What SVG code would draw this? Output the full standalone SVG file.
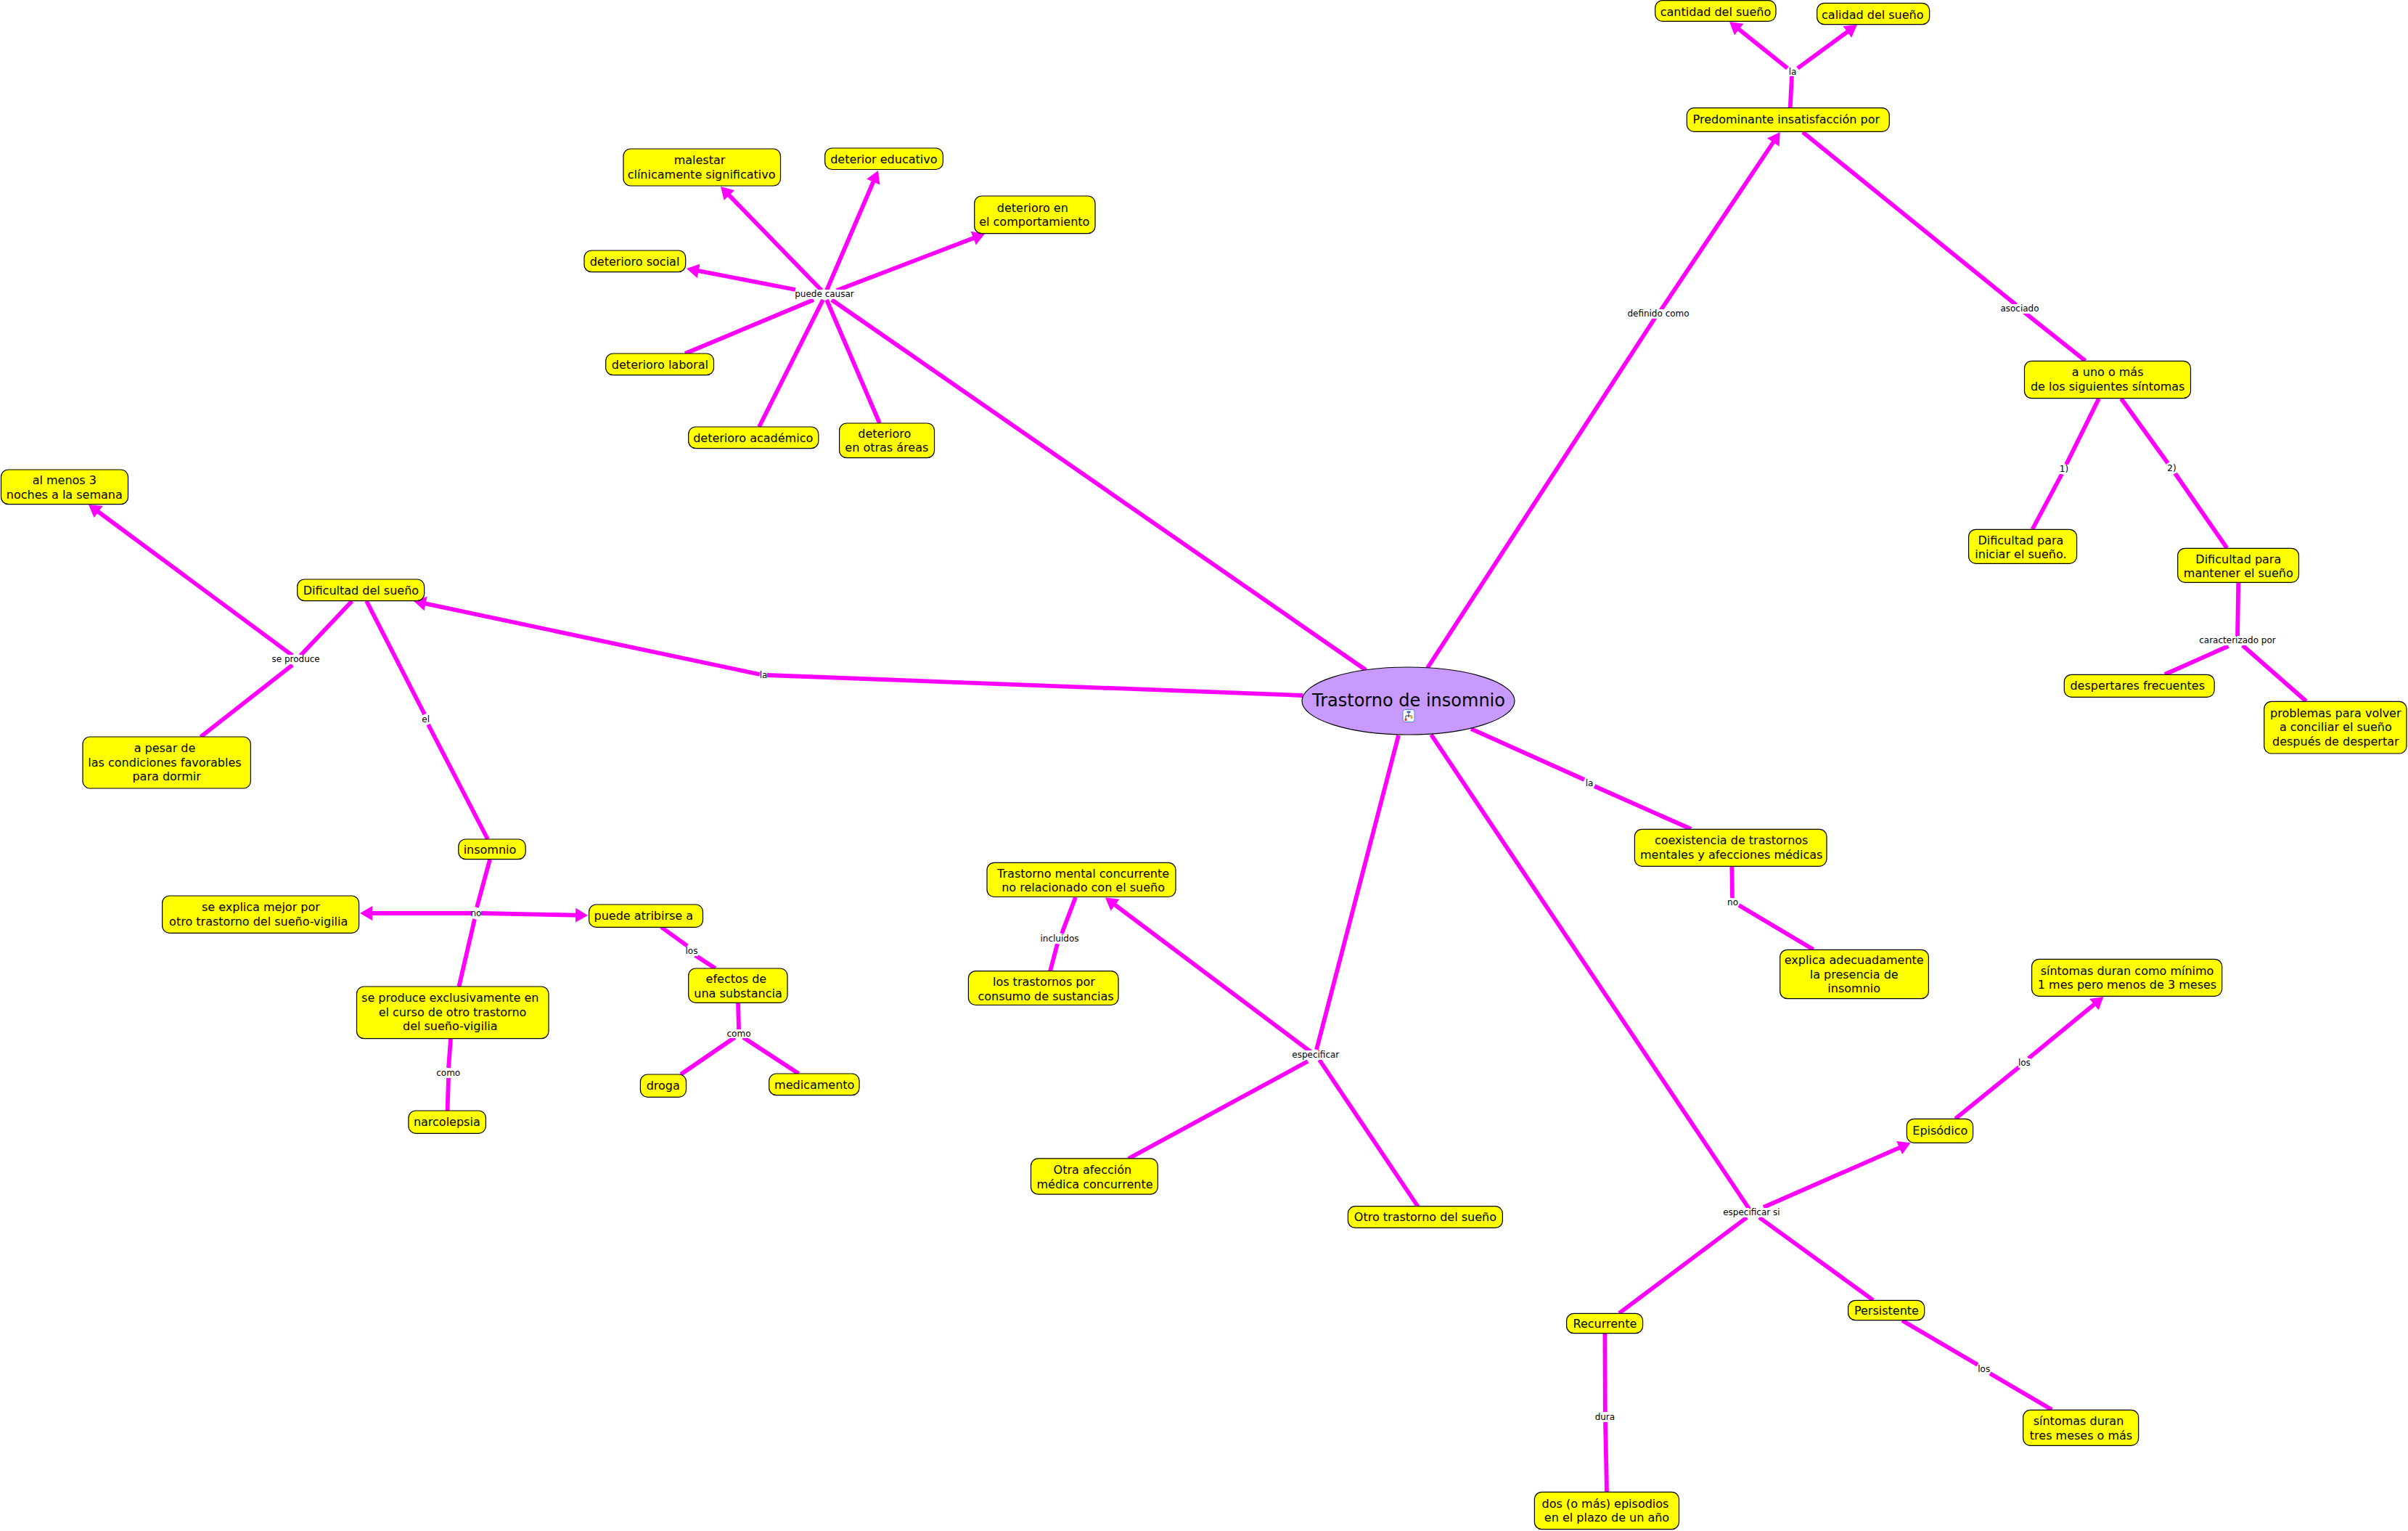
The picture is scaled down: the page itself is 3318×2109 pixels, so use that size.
<svg xmlns="http://www.w3.org/2000/svg" width="3318" height="2109" viewBox="0 0 3318 2109">
<style>
text{font-family:"DejaVu Sans","Liberation Sans",sans-serif;fill:#000}
.n rect{fill:#ff0;stroke:#000;stroke-width:1.2}
.n text{font-size:16px;text-anchor:middle}
.l rect{fill:#fff}
.l text{font-size:12px;text-anchor:middle}
#connectors line,#connectors polyline{stroke:#f0f;stroke-width:5.8;fill:none}
.a{marker-end:url(#arrow)}
</style>
<defs>
<marker id="arrow" markerUnits="userSpaceOnUse" markerWidth="18" markerHeight="22" refX="8" refY="11" orient="auto"><path d="M0 1L17 11L0 21z" fill="#f0f"/></marker>
</defs>
<rect width="3318" height="2109" fill="#fff"/>
<g id="connectors">
<line x1="1882" y1="923" x2="1146" y2="413"/>
<line class="a" x1="1132" y1="400" x2="999.3" y2="263.5"/>
<line class="a" x1="1139" y1="400" x2="1206.4" y2="243.3"/>
<line class="a" x1="1153" y1="400" x2="1348.6" y2="325.2"/>
<line class="a" x1="1096" y1="399" x2="954.8" y2="371.7"/>
<line x1="944" y1="487" x2="1121" y2="413"/>
<line x1="1046" y1="588" x2="1134" y2="413"/>
<line x1="1212" y1="583" x2="1139" y2="413"/>
<line x1="1795" y1="958" x2="1057" y2="930"/>
<line class="a" x1="1047" y1="929" x2="578.8" y2="829.9"/>
<line class="a" x1="403" y1="903" x2="129.2" y2="700.4"/>
<line x1="485" y1="828" x2="414" y2="903"/>
<line x1="276.5" y1="1015" x2="403" y2="916"/>
<line x1="505" y1="828" x2="585" y2="984"/>
<line x1="590" y1="998" x2="672" y2="1156"/>
<line x1="675" y1="1184" x2="657" y2="1250"/>
<line x1="654" y1="1266" x2="632.4" y2="1359"/>
<line class="a" x1="650" y1="1258" x2="505" y2="1258"/>
<line class="a" x1="663" y1="1258" x2="801" y2="1260.8"/>
<line x1="911" y1="1277" x2="947" y2="1303"/>
<line x1="958" y1="1316" x2="985.7" y2="1334"/>
<line x1="1017" y1="1381" x2="1018" y2="1418"/>
<line x1="1012.5" y1="1429" x2="938" y2="1480"/>
<line x1="1024" y1="1429" x2="1100.5" y2="1479"/>
<line x1="621" y1="1431" x2="618" y2="1471"/>
<line x1="618" y1="1485" x2="616.5" y2="1530"/>
<line x1="1967" y1="920" x2="2281" y2="437"/>
<line class="a" x1="2288" y1="428" x2="2447.7" y2="189.5"/>
<line x1="2466.7" y1="149" x2="2469" y2="104"/>
<line class="a" x1="2463" y1="94" x2="2390" y2="35.6"/>
<line class="a" x1="2477" y1="94" x2="2551.7" y2="39.3"/>
<line x1="2484" y1="182" x2="2778" y2="420"/>
<line x1="2789" y1="430" x2="2873.4" y2="497"/>
<line x1="2892" y1="549" x2="2847" y2="640"/>
<line x1="2841" y1="653" x2="2800.5" y2="729"/>
<line x1="2922.7" y1="549" x2="2987" y2="638"/>
<line x1="2997" y1="652" x2="3068.5" y2="755"/>
<line x1="3084.3" y1="802" x2="3083" y2="878"/>
<line x1="3070.5" y1="890" x2="2983" y2="929"/>
<line x1="3090" y1="889" x2="3177.7" y2="966"/>
<line x1="2027" y1="1004" x2="2183" y2="1074"/>
<line x1="2197" y1="1083" x2="2330" y2="1142"/>
<line x1="2386.3" y1="1193" x2="2387" y2="1238"/>
<line x1="2396" y1="1247" x2="2498.6" y2="1308"/>
<line x1="1927" y1="1013" x2="1814" y2="1446"/>
<line class="a" x1="1805.7" y1="1448.6" x2="1530.2" y2="1241.9"/>
<line x1="1802" y1="1462" x2="1555" y2="1596"/>
<line x1="1818" y1="1460" x2="1953.7" y2="1662"/>
<line x1="1482" y1="1236" x2="1463" y2="1286"/>
<line x1="1457" y1="1300" x2="1447" y2="1338"/>
<line x1="1972" y1="1012" x2="2410" y2="1665"/>
<line class="a" x1="2430" y1="1663" x2="2624.3" y2="1577.9"/>
<line x1="2407" y1="1677" x2="2231" y2="1809"/>
<line x1="2424" y1="1677" x2="2581" y2="1791"/>
<line x1="2211.4" y1="1837" x2="2211.8" y2="1945"/>
<line x1="2212" y1="1959" x2="2214" y2="2055"/>
<line x1="2621" y1="1819" x2="2725" y2="1880"/>
<line x1="2742" y1="1892" x2="2827.3" y2="1942"/>
<line x1="2694.4" y1="1541" x2="2782" y2="1470"/>
<line class="a" x1="2795" y1="1458" x2="2891.5" y2="1378.7"/>
</g>
<g id="labels">
<g class="l"><rect x="1096" y="399" width="80" height="13"/><text x="1136" y="409">puede causar</text></g>
<g class="l"><rect x="1047" y="924" width="10" height="13"/><text x="1052" y="934">la</text></g>
<g class="l"><rect x="375" y="902" width="66" height="13"/><text x="407.6" y="912">se produce</text></g>
<g class="l"><rect x="583" y="985" width="8" height="13"/><text x="586.7" y="995">el</text></g>
<g class="l"><text x="656" y="1262">no</text></g>
<g class="l"><rect x="945" y="1304" width="17" height="13"/><text x="953" y="1314">los</text></g>
<g class="l"><rect x="1002" y="1418" width="32" height="12"/><text x="1018" y="1428">como</text></g>
<g class="l"><rect x="602" y="1472" width="32" height="13"/><text x="617.7" y="1482">como</text></g>
<g class="l"><rect x="2465" y="93" width="10" height="12"/><text x="2470" y="103">la</text></g>
<g class="l"><rect x="2243" y="426" width="84" height="13"/><text x="2285" y="436">definido como</text></g>
<g class="l"><rect x="2757" y="419" width="52" height="13"/><text x="2783" y="429">asociado</text></g>
<g class="l"><rect x="2838" y="640" width="12" height="13"/><text x="2844" y="650">1)</text></g>
<g class="l"><rect x="2986" y="639" width="13" height="13"/><text x="2992.5" y="649">2)</text></g>
<g class="l"><rect x="3031" y="876" width="104" height="13"/><text x="3083" y="886">caracterizado por</text></g>
<g class="l"><rect x="2184" y="1073" width="12" height="13"/><text x="2190" y="1083">la</text></g>
<g class="l"><rect x="2380" y="1237" width="15" height="12"/><text x="2387.6" y="1247">no</text></g>
<g class="l"><rect x="1781" y="1447" width="64" height="13"/><text x="1812.8" y="1457">especificar</text></g>
<g class="l"><rect x="1433" y="1287" width="54" height="13"/><text x="1460" y="1297">incluidos</text></g>
<g class="l"><rect x="2374" y="1664" width="78" height="13"/><text x="2413.4" y="1674">especificar si</text></g>
<g class="l"><rect x="2197" y="1946" width="29" height="13"/><text x="2211.4" y="1956">dura</text></g>
<g class="l"><rect x="2725" y="1880" width="17" height="13"/><text x="2733.7" y="1890">los</text></g>
<g class="l"><rect x="2781" y="1458" width="17" height="13"/><text x="2789.4" y="1468">los</text></g>
</g>
<g id="n-central"><ellipse cx="1940.5" cy="965.5" rx="146.5" ry="46.5" fill="#c899ff" stroke="#000" stroke-width="1.2"/><text x="1941" y="973" font-size="24" text-anchor="middle">Trastorno de insomnio</text>
<rect x="1933" y="977.5" width="16" height="17" rx="3" fill="#fff" stroke="#4a86d8" stroke-width="1"/><path d="M1941 981V988M1937 986H1945M1937 986V990M1945 986V990" stroke="#333" stroke-width="1" fill="none"/><rect x="1938.5" y="979.5" width="5" height="2.5" fill="#36c"/><rect x="1935.5" y="990" width="3" height="3" fill="#c33"/><rect x="1943.5" y="986" width="3" height="3" fill="#da3"/></g>
<g id="n-malestar" class="n"><rect x="859" y="205" width="216.500" height="51" rx="10"/><text y="226"><tspan x="964">malestar</tspan><tspan x="966.600" y="245.500">clínicamente significativo</tspan></text></g>
<g id="n-educativo" class="n"><rect x="1136.700" y="204" width="162.700" height="29.500" rx="10"/><text x="1217.800" y="225">deterior educativo</text></g>
<g id="n-comportamiento" class="n"><rect x="1342.700" y="270" width="166.300" height="51.700" rx="10"/><text y="291.500"><tspan x="1422.800">deterioro en</tspan><tspan x="1425.300" y="311">el comportamiento</tspan></text></g>
<g id="n-social" class="n"><rect x="805" y="345" width="139.700" height="29.700" rx="10"/><text x="874.500" y="366">deterioro social</text></g>
<g id="n-laboral" class="n"><rect x="834.700" y="487" width="148.800" height="29.700" rx="10"/><text x="909.400" y="508">deterioro laboral</text></g>
<g id="n-academico" class="n"><rect x="948.700" y="588" width="179.100" height="29.700" rx="10"/><text x="1037.700" y="609">deterioro académico</text></g>
<g id="n-otras" class="n"><rect x="1156.600" y="583" width="130.900" height="47.700" rx="10"/><text y="602.500"><tspan x="1218.800">deterioro</tspan><tspan x="1221.800" y="622">en otras áreas</tspan></text></g>
<g id="n-almenos" class="n"><rect x="1.500" y="647" width="175" height="47.700" rx="10"/><text y="667"><tspan x="88.800">al menos 3</tspan><tspan x="88.800" y="686.500">noches a la semana</tspan></text></g>
<g id="n-dificultad" class="n"><rect x="409.700" y="798" width="175" height="29.700" rx="10"/><text x="497.400" y="819">Dificultad del sueño</text></g>
<g id="n-apesar" class="n"><rect x="114" y="1015" width="231.400" height="71" rx="10"/><text y="1036"><tspan x="227">a pesar de</tspan><tspan x="227" y="1055.500">las condiciones favorables</tspan><tspan x="229.600" y="1075">para dormir</tspan></text></g>
<g id="n-insomnio" class="n"><rect x="631.800" y="1156" width="92.400" height="27.700" rx="10"/><text x="675" y="1176">insomnio</text></g>
<g id="n-explica-mejor" class="n"><rect x="223.600" y="1234" width="271" height="51.300" rx="10"/><text y="1255"><tspan x="359.400">se explica mejor por</tspan><tspan x="356.200" y="1274.500">otro trastorno del sueño-vigilia</tspan></text></g>
<g id="n-atribirse" class="n"><rect x="811.600" y="1246" width="156.900" height="31.300" rx="10"/><text x="886.800" y="1267">puede atribirse a</text></g>
<g id="n-efectos" class="n"><rect x="948.700" y="1334" width="136.300" height="47.300" rx="10"/><text y="1354"><tspan x="1014.400">efectos de</tspan><tspan x="1017" y="1373.500">una substancia</tspan></text></g>
<g id="n-exclusivamente" class="n"><rect x="491.500" y="1359" width="264.500" height="71.700" rx="10"/><text y="1380"><tspan x="620.300">se produce exclusivamente en</tspan><tspan x="623.500" y="1399.500">el curso de otro trastorno</tspan><tspan x="620.300" y="1419">del sueño-vigilia</tspan></text></g>
<g id="n-narcolepsia" class="n"><rect x="562.900" y="1530" width="106.500" height="31.300" rx="10"/><text x="615.800" y="1551">narcolepsia</text></g>
<g id="n-droga" class="n"><rect x="882.400" y="1480" width="63.100" height="31.300" rx="10"/><text x="913.700" y="1501">droga</text></g>
<g id="n-medicamento" class="n"><rect x="1059.700" y="1479" width="124.300" height="29.700" rx="10"/><text x="1122.200" y="1500">medicamento</text></g>
<g id="n-cantidad" class="n"><rect x="2280.700" y="0.700" width="166.300" height="28.600" rx="10"/><text x="2364" y="22">cantidad del sueño</text></g>
<g id="n-calidad" class="n"><rect x="2503.700" y="4.300" width="155" height="29.400" rx="10"/><text x="2580.300" y="26">calidad del sueño</text></g>
<g id="n-predominante" class="n"><rect x="2324.300" y="148.700" width="279" height="32.600" rx="10"/><text x="2461.300" y="170">Predominante insatisfacción por</text></g>
<g id="n-auno" class="n"><rect x="2789.500" y="497.300" width="229" height="51.400" rx="10"/><text y="518"><tspan x="2904.200">a uno o más</tspan><tspan x="2904.200" y="537.500">de los siguientes síntomas</tspan></text></g>
<g id="n-iniciar" class="n"><rect x="2712.600" y="729.300" width="149" height="47" rx="10"/><text y="749.500"><tspan x="2784.400">Dificultad para</tspan><tspan x="2784.400" y="769">iniciar el sueño.</tspan></text></g>
<g id="n-mantener" class="n"><rect x="3000.700" y="755.300" width="166.800" height="47" rx="10"/><text y="775.500"><tspan x="3084.300">Dificultad para</tspan><tspan x="3084.300" y="795">mantener el sueño</tspan></text></g>
<g id="n-despertares" class="n"><rect x="2844.300" y="929.300" width="206.900" height="31" rx="10"/><text x="2945.200" y="950">despertares frecuentes</text></g>
<g id="n-problemas" class="n"><rect x="3119.800" y="966.300" width="196.200" height="71.700" rx="10"/><text y="987.500"><tspan x="3218.300">problemas para volver</tspan><tspan x="3218.300" y="1007">a conciliar el sueño</tspan><tspan x="3218.300" y="1026.500">después de despertar</tspan></text></g>
<g id="n-mental" class="n"><rect x="1360" y="1188.300" width="260" height="47.200" rx="10"/><text y="1208.500"><tspan x="1492.600">Trastorno mental concurrente</tspan><tspan x="1492.600" y="1228">no relacionado con el sueño</tspan></text></g>
<g id="n-sustancias" class="n"><rect x="1334.400" y="1337.600" width="206.600" height="46.900" rx="10"/><text y="1358"><tspan x="1438.400">los trastornos por</tspan><tspan x="1441" y="1377.500">consumo de sustancias</tspan></text></g>
<g id="n-afeccion" class="n"><rect x="1420.500" y="1595.900" width="174.800" height="49.300" rx="10"/><text y="1617"><tspan x="1505.400">Otra afección</tspan><tspan x="1508.500" y="1636.500">médica concurrente</tspan></text></g>
<g id="n-otro" class="n"><rect x="1857.400" y="1661.700" width="213" height="29.700" rx="10"/><text x="1963.900" y="1682">Otro trastorno del sueño</text></g>
<g id="n-coexistencia" class="n"><rect x="2252.400" y="1142.300" width="264.600" height="51" rx="10"/><text y="1163"><tspan x="2385.700">coexistencia de trastornos</tspan><tspan x="2385.700" y="1182.500">mentales y afecciones médicas</tspan></text></g>
<g id="n-adecuadamente" class="n"><rect x="2452.700" y="1308.300" width="204.700" height="67.400" rx="10"/><text y="1328"><tspan x="2554.700">explica adecuadamente</tspan><tspan x="2554.700" y="1347.500">la presencia de</tspan><tspan x="2554.700" y="1367">insomnio</tspan></text></g>
<g id="n-minimo" class="n"><rect x="2799.600" y="1321.300" width="262.100" height="51" rx="10"/><text y="1342.500"><tspan x="2931">síntomas duran como mínimo</tspan><tspan x="2931" y="1362">1 mes pero menos de 3 meses</tspan></text></g>
<g id="n-episodico" class="n"><rect x="2627.400" y="1541.300" width="91.200" height="33" rx="10"/><text x="2673.300" y="1563">Episódico</text></g>
<g id="n-recurrente" class="n"><rect x="2158.600" y="1809.300" width="105" height="27.400" rx="10"/><text x="2211.400" y="1829">Recurrente</text></g>
<g id="n-persistente" class="n"><rect x="2546.600" y="1791.300" width="105.100" height="27.400" rx="10"/><text x="2599.400" y="1811">Persistente</text></g>
<g id="n-dos" class="n"><rect x="2114.400" y="2055.300" width="199.100" height="51.400" rx="10"/><text y="2076.500"><tspan x="2212">dos (o más) episodios</tspan><tspan x="2214" y="2096">en el plazo de un año</tspan></text></g>
<g id="n-tresmeses" class="n"><rect x="2787.700" y="1942.300" width="159" height="49" rx="10"/><text y="1963"><tspan x="2864">síntomas duran</tspan><tspan x="2867.500" y="1982.500">tres meses o más</tspan></text></g>
</svg>
